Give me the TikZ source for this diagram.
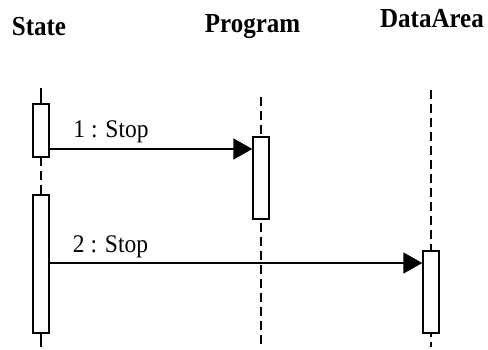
\documentclass[tikz,border=0pt]{standalone}
\usepackage{fontspec}
\setmainfont{Liberation Serif}
\usetikzlibrary{arrows.meta}
\begin{document}
\begin{tikzpicture}[x=1pt,y=-1pt,
  actbox/.style={draw=black,line width=1.4pt,fill=white,minimum width=16pt,inner sep=0pt},
  lifeline/.style={line width=1.5pt,dash pattern=on 9pt off 5pt},
  solidline/.style={line width=1.5pt},
  msg/.style={line width=1.8pt,-{Triangle[length=19pt,width=21pt]}},
  header/.style={font=\fontsize{25}{29}\selectfont\bfseries,anchor=base,inner sep=0pt},
  msglabel/.style={font=\fontsize{23.5}{27}\selectfont,anchor=base,inner sep=0pt}]
\useasboundingbox (0,0) rectangle (488,350);
% headers
\node[header] (hstate) at (39,36) {\scalebox{1}[1.1]{State}};
\node[header] (hprog) at (252.5,33) {\scalebox{1}[1.1]{Program}};
\node[header] (hdata) at (432,28) {\scalebox{1}[1.1]{DataArea}};
% lifeline coordinates
\coordinate (stop) at (41,88);
\coordinate (sbot) at (41,347);
\coordinate (ptop) at (261,97);
\coordinate (pbot) at (261,347);
\coordinate (dtop) at (431,90);
\coordinate (dbot) at (431,347);
% lifelines (behind boxes)
\draw[solidline] (stop) -- (41,104);
\draw[lifeline] (41,157) -- (41,195);
\draw[solidline] (41,333) -- (sbot);
\draw[lifeline] (ptop) -- (pbot);
\draw[lifeline] (dtop) -- (dbot);
% activation boxes
\node[actbox,minimum height=53pt] (s1) at (41,130.5) {};
\node[actbox,minimum height=138pt] (s2) at (41,264) {};
\node[actbox,minimum height=82pt] (p1) at (261,178) {};
\node[actbox,minimum height=82pt] (d1) at (431,292) {};
% messages
\coordinate (m1) at (150,149);
\coordinate (m2) at (150,263);
\draw[msg] (s1.east |- m1) -- (p1.west |- m1);
\draw[msg] (s2.east |- m2) -- (d1.west |- m2);
\node[msglabel] (l1) at (111,138) {\scalebox{1}[1.08]{1 : Stop}};
\node[msglabel] (l2) at (110.5,253) {\scalebox{1}[1.08]{2 : Stop}};
\end{tikzpicture}
\end{document}
